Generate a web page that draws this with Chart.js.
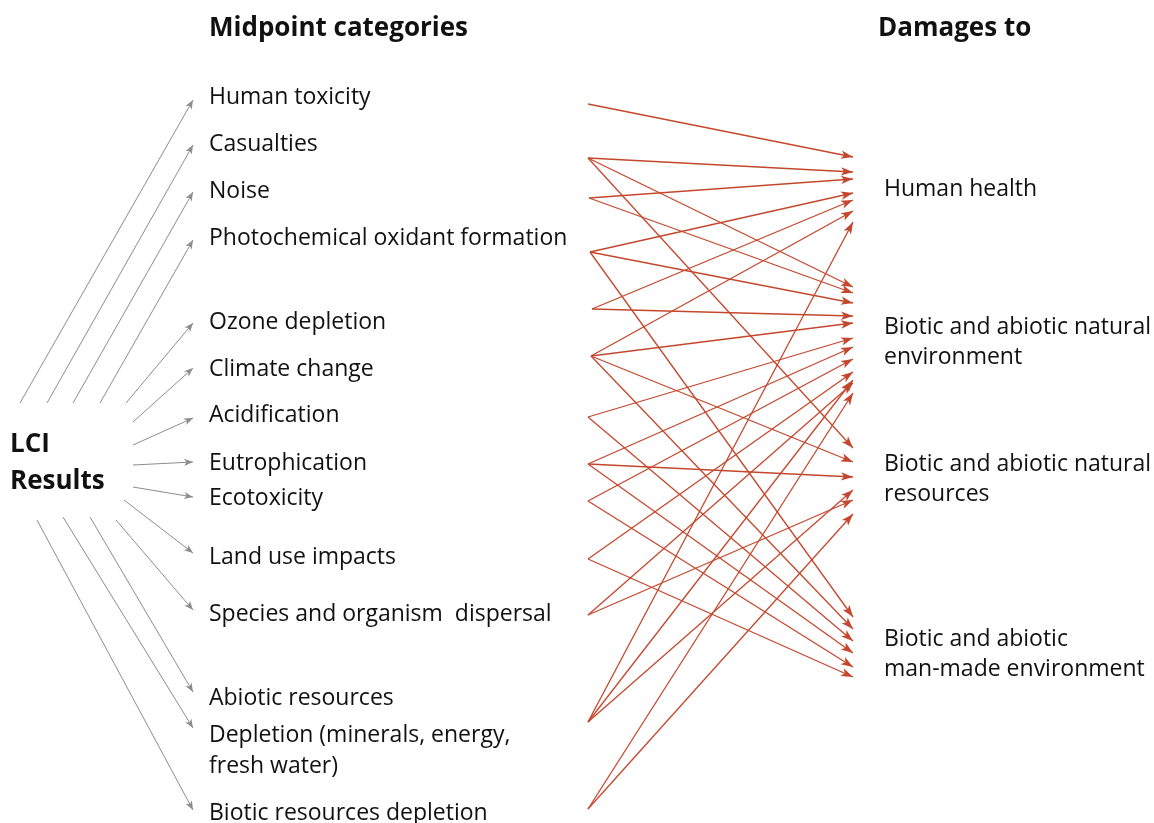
<!DOCTYPE html>
<html><head><meta charset="utf-8">
<script src="https://cdn.jsdelivr.net/npm/chart.js@4.4.1/dist/chart.umd.min.js"></script>
<style>html,body{margin:0;padding:0;background:#fff;} #wrap{width:1154px;height:823px;position:relative;}</style>
</head><body><div id="wrap"><canvas id="c"></canvas></div>
<script>
// ---- Text content ----
const headerTexts = ['Midpoint categories', 'Damages to', 'LCI', 'Results'];
const headerX = [209, 878, 10, 10];
const headerY = [27, 27, 443, 480];

const midLabels = ['Human toxicity', 'Casualties', 'Noise', 'Photochemical oxidant formation',
  'Ozone depletion', 'Climate change', 'Acidification', 'Eutrophication', 'Ecotoxicity',
  'Land use impacts', 'Species and organism  dispersal', 'Abiotic resources',
  'Depletion (minerals, energy,', 'fresh water)', 'Biotic resources depletion'];
const midLabelY = [95, 142, 189, 236, 320, 367, 413, 461, 496, 555, 612, 696, 733, 764, 811];
const midLabelX = 209;

const damageLabels = ['Human health', 'Biotic and abiotic natural', 'environment',
  'Biotic and abiotic natural', 'resources', 'Biotic and abiotic', 'man-made environment'];
const damageLabelY = [187, 325, 355, 462, 492, 637, 667];
const damageLabelX = 884;

// ---- LCI results -> midpoint arrows (grey) ----
const lciStartX = [20, 47, 73, 100, 126, 133, 133, 133, 133, 124, 116, 90, 63, 37];
const lciStartY = [403, 403, 403, 403, 403, 422, 445, 465, 487, 500, 520, 517, 517, 520];
const lciTipY   = [100, 145, 192, 240, 323, 368, 418, 462, 497, 553, 610, 692, 728, 810];
const lciTipX = 193;

// ---- Midpoint -> damage links (red) ----
const srcX = [588, 588, 589, 590, 592, 591, 588, 588, 588, 588, 588, 588, 588];
const srcY = [104, 158, 198, 252, 309, 356, 417, 464, 501, 559, 615, 722, 809];
const linkSource  = [0, 1, 1, 1, 2, 2, 3, 3, 3, 4, 4, 5, 5, 5, 5, 6, 6, 7, 7, 7, 8, 8, 9, 9, 10, 10, 11, 11, 11, 12, 12];
const linkTargetY = [157, 172, 287, 448, 179, 293, 193, 303, 617, 200, 316, 211, 323, 462, 629, 338, 641, 347, 477, 653, 359, 667, 372, 677, 383, 500, 222, 380, 490, 393, 514];
const targetX = 853;

const GREY = '#8c8c8c';
const RED = '#c4472d';

const datasets = [];
lciTipY.forEach((ty, i) => {
  datasets.push({ data: [{x: lciStartX[i], y: lciStartY[i]}, {x: lciTipX, y: ty}],
    borderColor: GREY, borderWidth: 1, showLine: true, pointRadius: 0, arrow: 'grey' });
});
linkSource.forEach((s, i) => {
  datasets.push({ data: [{x: srcX[s], y: srcY[s]}, {x: targetX, y: linkTargetY[i]}],
    borderColor: RED, borderWidth: 1.3, showLine: true, pointRadius: 0, arrow: 'red' });
});

const FONT = '"Open Sans", "Noto Sans", sans-serif';
const TEXT_SHIFT = 2;

const diagramPlugin = {
  id: 'diagram',
  afterDatasetsDraw(chart) {
    const ctx = chart.ctx;
    const xs = chart.scales.x, ys = chart.scales.y;
    chart.data.datasets.forEach((ds, i) => {
      const meta = chart.getDatasetMeta(i);
      const p0 = meta.data[0], p1 = meta.data[1];
      const ang = Math.atan2(p1.y - p0.y, p1.x - p0.x);
      const len = ds.arrow === 'red' ? 12 : 9;
      const half = ds.arrow === 'red' ? 4.2 : 3.6;
      const back = ds.arrow === 'red' ? 3 : 2.5;
      ctx.save();
      ctx.translate(p1.x, p1.y);
      ctx.rotate(ang);
      ctx.beginPath();
      ctx.moveTo(0, 0);
      ctx.lineTo(-len, -half);
      ctx.lineTo(-len + back, 0);
      ctx.lineTo(-len, half);
      ctx.closePath();
      ctx.fillStyle = ds.borderColor;
      ctx.fill();
      ctx.restore();
    });
    ctx.save();
    ctx.textBaseline = 'middle';
    ctx.textAlign = 'left';
    ctx.fillStyle = '#111';
    ctx.font = 'bold 26px ' + FONT;
    headerTexts.forEach((t, i) => ctx.fillText(t, xs.getPixelForValue(headerX[i]), ys.getPixelForValue(headerY[i]) + TEXT_SHIFT));
    ctx.font = '23px ' + FONT;
    midLabels.forEach((t, i) => ctx.fillText(t, xs.getPixelForValue(midLabelX), ys.getPixelForValue(midLabelY[i]) + TEXT_SHIFT));
    damageLabels.forEach((t, i) => ctx.fillText(t, xs.getPixelForValue(damageLabelX), ys.getPixelForValue(damageLabelY[i]) + TEXT_SHIFT));
    ctx.restore();
  }
};

new Chart(document.getElementById('c'), {
  type: 'scatter',
  data: { datasets },
  options: {
    responsive: true, maintainAspectRatio: false, animation: false,
    layout: { padding: 0 },
    plugins: { legend: { display: false }, tooltip: { enabled: false } },
    scales: {
      x: { type: 'linear', min: 0, max: 1154, display: false },
      y: { type: 'linear', min: 0, max: 823, reverse: true, display: false }
    },
    elements: { line: { tension: 0 } }
  },
  plugins: [diagramPlugin]
});
</script>
</body></html>
